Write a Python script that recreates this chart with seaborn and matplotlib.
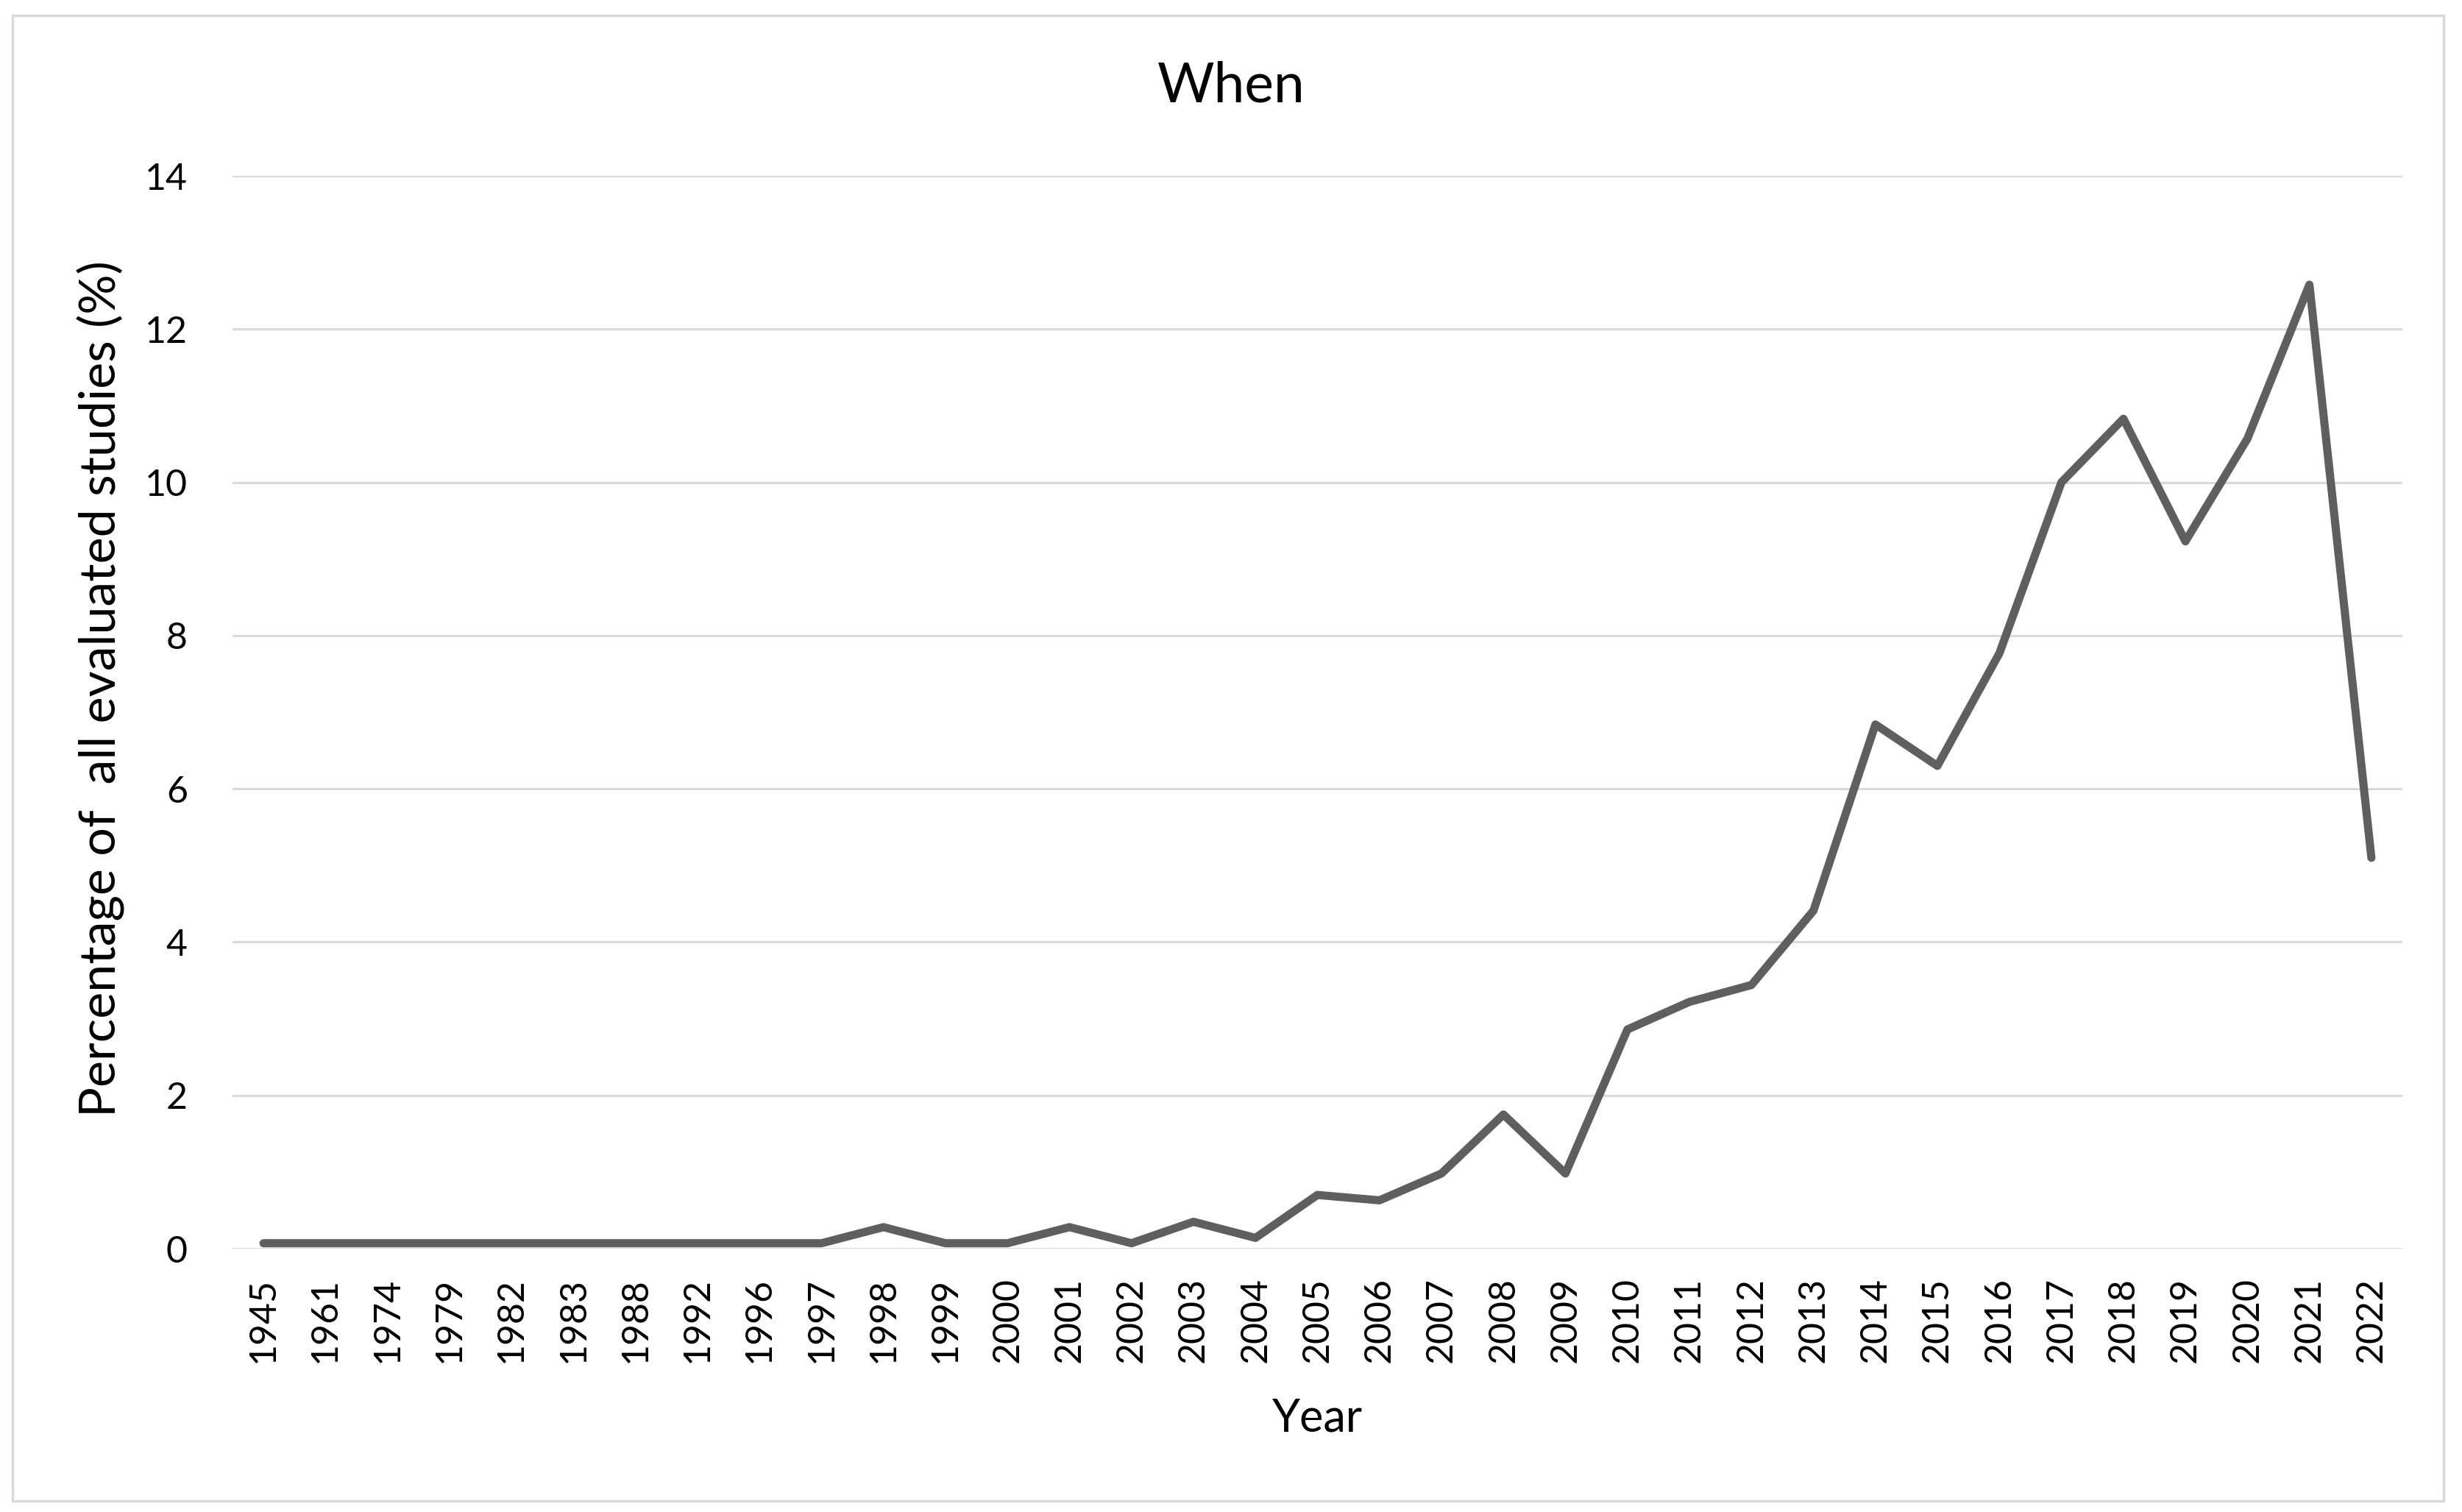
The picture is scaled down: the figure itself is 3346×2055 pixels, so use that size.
import matplotlib
matplotlib.use("Agg")
import matplotlib.pyplot as plt
import seaborn as sns
import pandas as pd
from matplotlib.patches import Rectangle

years = ["1945", "1961", "1974", "1979", "1982", "1983", "1988", "1992", "1996",
         "1997", "1998", "1999", "2000", "2001", "2002", "2003", "2004", "2005",
         "2006", "2007", "2008", "2009", "2010", "2011", "2012", "2013", "2014",
         "2015", "2016", "2017", "2018", "2019", "2020", "2021", "2022"]
percent = [0.07, 0.07, 0.07, 0.07, 0.07, 0.07, 0.07, 0.07, 0.07,
           0.07, 0.28, 0.07, 0.07, 0.28, 0.07, 0.35, 0.14, 0.70,
           0.63, 0.98, 1.75, 0.98, 2.86, 3.22, 3.44, 4.41, 6.84,
           6.30, 7.77, 10.0, 10.83, 9.23, 10.57, 12.58, 5.10]
yticks = [0, 2, 4, 6, 8, 10, 12, 14]

title = "When"
xlabel = "Year"
ylabel = "Percentage of  all evaluated studies (%)"

df = pd.DataFrame({"Year": years, "Percent": percent})

sns.set_theme(style="white")
plt.rcParams["font.family"] = ["Lato", "DejaVu Sans"]

fig = plt.figure(figsize=(33.46, 20.55), dpi=100)
fig.patch.set_facecolor("white")
ax = fig.add_axes([316 / 3346, 1 - 1697 / 2055, (3265 - 316) / 3346, (1697 - 239) / 2055])

sns.lineplot(data=df, x="Year", y="Percent", ax=ax, color="#5f5f5f",
             linewidth=8.0, sort=False, solid_capstyle="round",
             solid_joinstyle="round")

ax.set_xlim(-0.5, len(years) - 0.5)
ax.set_ylim(0, 14)
ax.set_yticks(yticks)
ax.set_yticklabels([str(v) for v in yticks])
ax.set_xticks(range(len(years)))
ax.set_xticklabels(years, rotation=90)
ax.yaxis.grid(True, color="#d9d9d9", linewidth=2.2)
ax.xaxis.grid(False)
ax.set_axisbelow(True)
for s in ["top", "right", "left", "bottom"]:
    ax.spines[s].set_visible(False)
ax.tick_params(axis="y", length=0, pad=44, labelsize=36, labelcolor="black")
ax.tick_params(axis="x", length=0, pad=28, labelsize=36, labelcolor="black")

ax.set_xlabel(xlabel, fontsize=44, color="black")
ax.set_ylabel(ylabel, fontsize=49, color="black")
ax.xaxis.set_label_coords(0.5, -0.139)
ax.yaxis.set_label_coords(-0.0495, 0.522)

fig.text(0.5, 1 - 117 / 2055, title, ha="center", va="center", fontsize=54, color="black")

fig.patches.append(Rectangle((17 / 3346, 1 - 2040 / 2055), (3321 - 17) / 3346, (2040 - 21) / 2055,
                             transform=fig.transFigure, fill=False,
                             edgecolor="#d9d9d9", linewidth=2.5))

fig.savefig("out.png", dpi=100, facecolor="white")
